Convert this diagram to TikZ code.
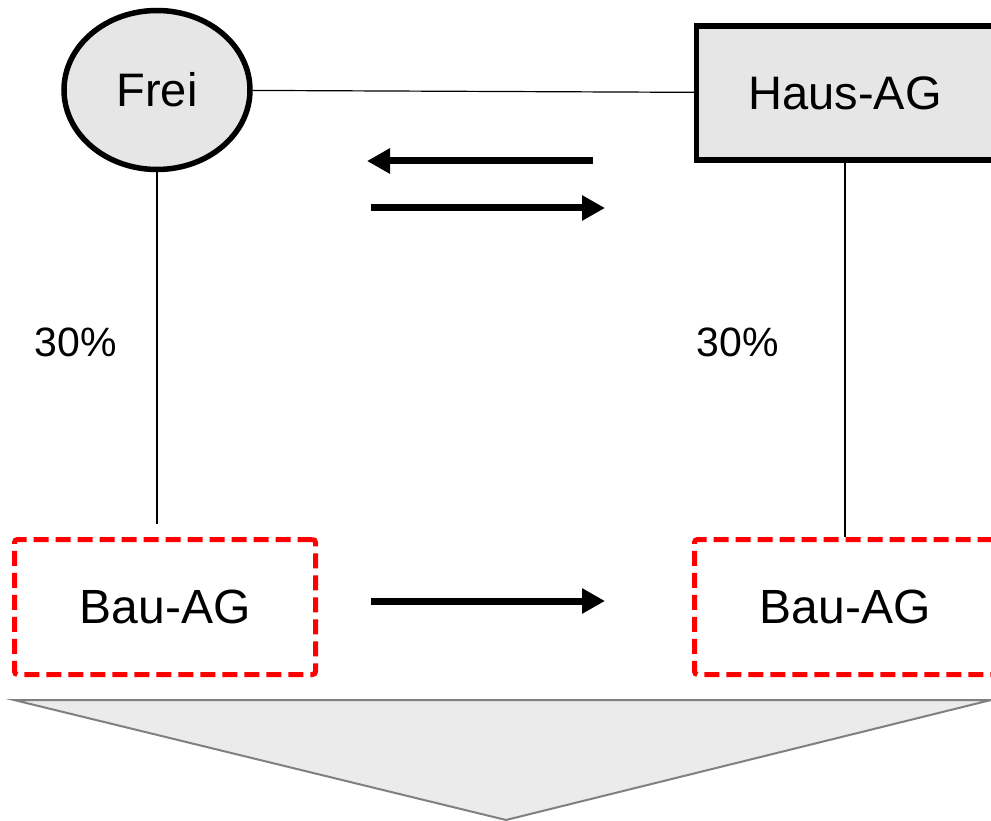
\documentclass[tikz,border=0pt]{standalone}
\usepackage{fontspec}
\setmainfont{Liberation Sans}
\usetikzlibrary{shapes.geometric,arrows.meta}

\definecolor{boxgray}{RGB}{230,230,230}
\definecolor{wedgegray}{RGB}{235,235,235}
\definecolor{wedgeline}{RGB}{128,128,128}

\tikzset{
  firm/.style={draw, line width=5.5pt, fill=boxgray, font=\fontsize{47}{56}\selectfont},
  newfirm/.style={draw=red, line width=5pt, dash pattern=on 15pt off 7pt, rounded corners=3pt,
    minimum width=301pt, minimum height=135pt, font=\fontsize{48}{57}\selectfont},
  link/.style={line width=1.2pt},
  shift arrow/.style={line width=7pt, -{Triangle[length=23pt,width=24pt]}},
  share/.style={font=\fontsize{41}{49}\selectfont}
}

\begin{document}
\begin{tikzpicture}[x=1pt,y=1pt,yscale=-1]
    \clip (0,0) rectangle (991,821);
    \useasboundingbox (0,0) rectangle (991,821);
    % wedge underneath
    \draw [fill=wedgegray, draw=wedgeline, line width=2pt] (14,700) -- (991,700) -- (506,820) -- cycle ;
    % firms
    \node [firm, ellipse, minimum width=186pt, minimum height=159pt] (frei) at (157,90) {Frei};
    \node [firm, rectangle, minimum width=297pt, minimum height=134pt] (haus) at (845,93) {Haus-AG};
    \node [newfirm] (bauL) at (165,607) {Bau-AG};
    \node [newfirm] (bauR) at (845,607) {Bau-AG};
    % holdings
    \coordinate (freiEnd) at (157,524);
    \draw [link] (frei) -- (haus) ;
    \draw [link] (frei.south) -- (freiEnd) ;
    \draw [link] (haus.south) -- (bauR.north) ;
    \node [share] (shareL) at (76,342) {30\%};
    \node [share] (shareR) at (738,342) {30\%};
    % transfers
    \coordinate (backFrom) at (593,161);
    \coordinate (backTo) at (367,161);
    \coordinate (forthFrom) at (371,208);
    \coordinate (forthTo) at (605,208);
    \coordinate (bauFrom) at (371,601);
    \coordinate (bauTo) at (605,601);
    \draw [shift arrow] (backFrom) -- (backTo) ;
    \draw [shift arrow] (forthFrom) -- (forthTo) ;
    \draw [shift arrow] (bauFrom) -- (bauTo) ;
\end{tikzpicture}
\end{document}
